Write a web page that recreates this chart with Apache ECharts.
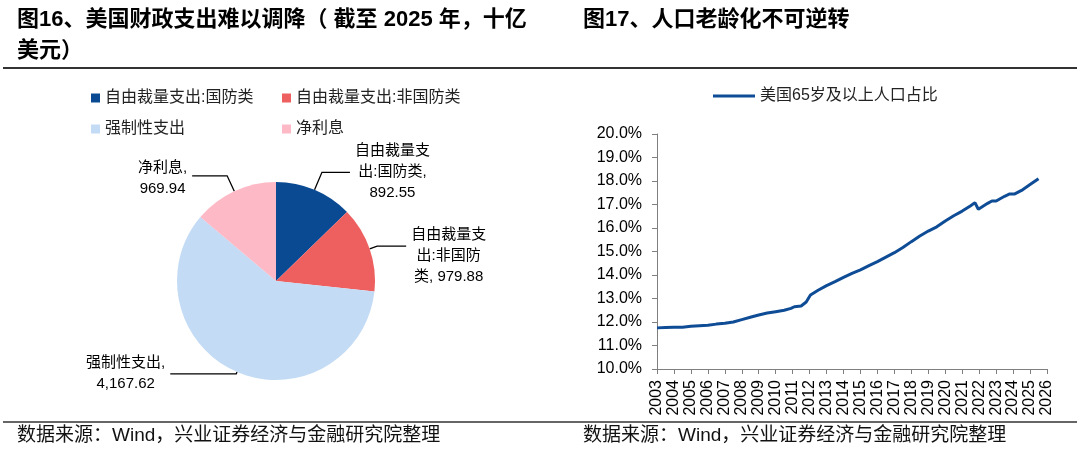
<!DOCTYPE html>
<html><head><meta charset="utf-8">
<script src="https://cdn.jsdelivr.net/npm/echarts@6/dist/echarts.min.js"></script>
<style>html,body{margin:0;padding:0;background:#fff}#c{width:1080px;height:449px}</style>
</head><body><div id="c"></div>
<script>
// ---------- data ----------
const pieNames = ['自由裁量支出:国防类', '自由裁量支出:非国防类', '强制性支出', '净利息'];
const pieValues = [892.55, 979.88, 4167.62, 969.94];

const lineName = '美国65岁及以上人口占比';
const lineYears = [2003.00, 2003.50, 2004.00, 2004.50, 2005.00, 2005.50, 2006.00, 2006.50, 2007.00, 2007.50,
  2008.00, 2008.50, 2009.00, 2009.50, 2010.00, 2010.50, 2010.90, 2011.10, 2011.50, 2011.80,
  2012.05, 2012.50, 2013.00, 2013.50, 2014.00, 2014.50, 2015.00, 2015.50, 2016.00, 2016.50,
  2017.00, 2017.50, 2018.00, 2018.50, 2019.00, 2019.50, 2020.00, 2020.50, 2021.00, 2021.50,
  2021.75, 2021.95, 2022.50, 2022.75, 2023.00, 2023.50, 2023.80, 2024.10, 2024.50, 2025.00, 2025.50];
const lineValues = [11.75, 11.77, 11.78, 11.78, 11.82, 11.84, 11.86, 11.91, 11.95, 12.00,
  12.10, 12.20, 12.30, 12.38, 12.44, 12.50, 12.58, 12.65, 12.68, 12.85,
  13.15, 13.35, 13.55, 13.72, 13.90, 14.07, 14.22, 14.40, 14.57, 14.76,
  14.95, 15.17, 15.42, 15.66, 15.87, 16.05, 16.30, 16.52, 16.72, 16.95,
  17.08, 16.80, 17.05, 17.15, 17.15, 17.35, 17.45, 17.45, 17.60, 17.85, 18.10];
const xMin = 2003, xMax = 2026;
const yMin = 10, yMax = 20;

const titleLeft = '图16、美国财政支出难以调降（ 截至 2025 年，十亿\n美元）';
const titleRight = '图17、人口老龄化不可逆转';
const sourceText = '数据来源：Wind，兴业证券经济与金融研究院整理';

// ---------- styles ----------
const FONT = "'Liberation Sans', 'Noto Sans CJK SC', sans-serif";
const pieColors = ['#0A4A93', '#EE6060', '#C3DBF4', '#FDB9C6'];
const lineColor = '#0F4C96';
const labelLineLens = [[19, 28], [8, 29], [2, 66], [17, 35]];
const labelPads = [[0, 0, 0, 0], [20, 0, 0, 0], [0, 0, 0, 0], [6, 0, 0, 0]];

function fmtVal(v) {
  return v.toLocaleString('en-US', {minimumFractionDigits: 2, maximumFractionDigits: 2});
}
function pieLabel(p) {
  const chunks = [];
  for (let i = 0; i < p.name.length; i += 5) chunks.push(p.name.slice(i, i + 5));
  const last = chunks.length - 1;
  const v = fmtVal(p.value);
  if (chunks[last].length <= 1) chunks[last] += ', ' + v;
  else { chunks[last] += ','; chunks.push(v); }
  return chunks.map(c => '{c|' + c + '}').join('\n');
}

const chart = echarts.init(document.getElementById('c'), null, {renderer: 'canvas'});
const titleStyle = {fontFamily: FONT, fontSize: 22, fontWeight: 'bold', lineHeight: 31, color: '#000'};
const srcStyle = {fontFamily: FONT, fontSize: 19, fontWeight: 'normal', lineHeight: 22, color: '#111'};
const legendText = {fontFamily: FONT, fontSize: 16, color: '#222'};
const option = {
  animation: false,
  backgroundColor: '#fff',
  textStyle: {fontFamily: FONT},
  title: [
    {text: titleLeft, left: 17, top: 4, padding: 0, textStyle: titleStyle},
    {text: titleRight, left: 583, top: 4, padding: 0, textStyle: titleStyle},
    {text: sourceText, left: 17, top: 425, padding: 0, textStyle: srcStyle},
    {text: sourceText, left: 583, top: 425, padding: 0, textStyle: srcStyle}
  ],
  graphic: [
    {type: 'line', shape: {x1: 3, y1: 68, x2: 1077, y2: 68}, style: {stroke: '#333', lineWidth: 2}},
    {type: 'line', shape: {x1: 3, y1: 422, x2: 1077, y2: 422}, style: {stroke: '#333', lineWidth: 1.5}}
  ],
  legend: [
    {data: [pieNames[0], pieNames[2]], orient: 'vertical', left: 91, top: 90, padding: 0, itemWidth: 9, itemHeight: 9, icon: 'rect', itemGap: 15,
     textStyle: legendText},
    {data: [pieNames[1], pieNames[3]], orient: 'vertical', left: 282, top: 90, padding: 0, itemWidth: 9, itemHeight: 9, icon: 'rect', itemGap: 15,
     textStyle: legendText},
    {data: [lineName], left: 713, top: 88, padding: 0, itemWidth: 42, itemHeight: 3, icon: 'rect',
     textStyle: legendText}
  ],
  grid: {left: 657, right: 33, top: 134, bottom: 80},
  xAxis: {
    type: 'value', min: xMin, max: xMax, interval: 1,
    axisLine: {show: true, lineStyle: {color: '#7f7f7f', width: 1}},
    axisTick: {show: true, length: 5, lineStyle: {color: '#7f7f7f'}},
    splitLine: {show: false},
    axisLabel: {rotate: 90, margin: 11, fontSize: 16, color: '#000', fontFamily: FONT, formatter: v => String(v)}
  },
  yAxis: {
    type: 'value', min: yMin, max: yMax, interval: 1,
    axisLine: {show: true, lineStyle: {color: '#7f7f7f', width: 1}},
    axisTick: {show: true, length: 5, lineStyle: {color: '#7f7f7f'}},
    splitLine: {show: false},
    axisLabel: {margin: 15, fontSize: 16, color: '#000', fontFamily: FONT, formatter: v => v.toFixed(1) + '%'}
  },
  series: [
    {
      type: 'line', name: lineName,
      data: lineYears.map((y, i) => [y, lineValues[i]]),
      symbol: 'none', showSymbol: false,
      lineStyle: {width: 3, color: lineColor}, itemStyle: {color: lineColor}
    },
    {
      type: 'pie', radius: 99, center: [276, 281], startAngle: 90, clockwise: true,
      avoidLabelOverlap: false,
      data: pieNames.map((n, i) => ({
        name: n, value: pieValues[i], itemStyle: {color: pieColors[i]},
        labelLine: {length: labelLineLens[i][0], length2: labelLineLens[i][1]},
        label: {padding: labelPads[i]}
      })),
      label: {
        show: true, position: 'outside', formatter: pieLabel, color: '#000',
        fontFamily: FONT, fontSize: 15, lineHeight: 21,
        rich: {c: {align: 'center', fontFamily: FONT, fontSize: 15, lineHeight: 21, color: '#000'}}
      },
      labelLine: {show: true, smooth: false, lineStyle: {color: '#000', width: 1.3}},
      emphasis: {disabled: true}
    }
  ]
};
chart.setOption(option);
</script>
</body></html>
